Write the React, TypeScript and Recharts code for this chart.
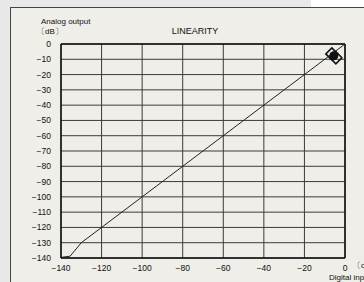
import React from 'react';
import { ComposedChart, Line, Scatter, XAxis, YAxis, CartesianGrid, ReferenceLine } from 'recharts';

// transfer curve: digital input (dB) -> analog output (dB)
const curveX = [-140, -135.5, -130, 0];
const curveY = [-139.6, -138.8, -130, 0];

// measured markers near full scale
const markX = [-6.5, -4.5];
const markY = [-6.5, -9];

const xTicks = [-140, -120, -100, -80, -60, -40, -20, 0];
const yTicks = [0, -10, -20, -30, -40, -50, -60, -70, -80, -90, -100, -110, -120, -130, -140];

const curve = curveX.map((x, i) => ({ x, y: curveY[i] }));
const marks = markX.map((x, i) => ({ x, y: markY[i] }));

const fmt = (v: number) => (v < 0 ? `\u2212${-v}` : '0');

const FONT = '"Liberation Sans", Arial, sans-serif';

const Diamond = (props: any) => {
  const { cx, cy } = props;
  const r = 6;
  return (
    <path
      d={`M${cx},${cy - r} L${cx + r},${cy} L${cx},${cy + r} L${cx - r},${cy} Z`}
      fill="none"
      stroke="#111"
      strokeWidth={1.6}
    />
  );
};

export default function App() {
  return (
    <div style={{ position: 'absolute', left: 0, top: 0, width: 364, height: 282, background: '#e8e8e8', overflow: 'hidden' }}>
      <div style={{ position: 'absolute', left: 311, top: 0, width: 53, height: 7, background: '#ffffff' }} />
      <div
        style={{
          position: 'absolute',
          left: 10,
          top: 7,
          width: 400,
          height: 300,
          background: '#efeee9',
          borderLeft: '1.5px solid #444',
          borderTop: '1.5px solid #444',
        }}
      />
      <div style={{ position: 'absolute', left: 0, top: 0 }}>
        <ComposedChart width={364} height={282} margin={{ top: 44, right: 19, bottom: 0, left: 0 }}>
          <CartesianGrid stroke="#3a3a3a" strokeWidth={1} horizontalValues={yTicks} verticalValues={xTicks} />
          <XAxis
            type="number"
            dataKey="x"
            domain={[-140, 0]}
            ticks={xTicks}
            tickFormatter={fmt}
            height={24}
            axisLine={{ stroke: '#111', strokeWidth: 1.5 }}
            tickLine={false}
            tick={{ fill: '#111', fontSize: 8.5, fontFamily: FONT }}
            tickMargin={1}
            allowDataOverflow
          />
          <YAxis
            type="number"
            dataKey="y"
            domain={[-140, 0]}
            ticks={yTicks}
            tickFormatter={fmt}
            width={61}
            axisLine={{ stroke: '#111', strokeWidth: 1.5 }}
            tickLine={false}
            tick={{ fill: '#111', fontSize: 8.5, fontFamily: FONT }}
            tickMargin={4}
            interval={0}
            allowDataOverflow
          />
          <ReferenceLine y={0} stroke="#111" strokeWidth={1.5} />
          <ReferenceLine x={0} stroke="#111" strokeWidth={1.5} />
          <Line
            data={curve}
            dataKey="y"
            type="linear"
            stroke="#222"
            strokeWidth={1}
            dot={false}
            isAnimationActive={false}
          />
          <Scatter data={marks} dataKey="y" shape={<Diamond />} isAnimationActive={false} />
          <Scatter data={[{ x: -5.5, y: -7.7 }]} dataKey="y" fill="#111" shape="circle" isAnimationActive={false} />
        </ComposedChart>
      </div>
      <svg width={364} height={282} style={{ position: 'absolute', left: 0, top: 0, pointerEvents: 'none' }}>
        <g fontFamily={FONT} fill="#111">
          <text x={41} y={24} fontSize={8}>Analog output</text>
          <text x={37} y={34} fontSize={8}>〔dB〕</text>
          <text x={195} y={34} fontSize={9} textAnchor="middle">LINEARITY</text>
          <text x={353} y={268} fontSize={8}>〔dB〕</text>
          <text x={329} y={280} fontSize={8}>Digital input</text>
        </g>
      </svg>
    </div>
  );
}
